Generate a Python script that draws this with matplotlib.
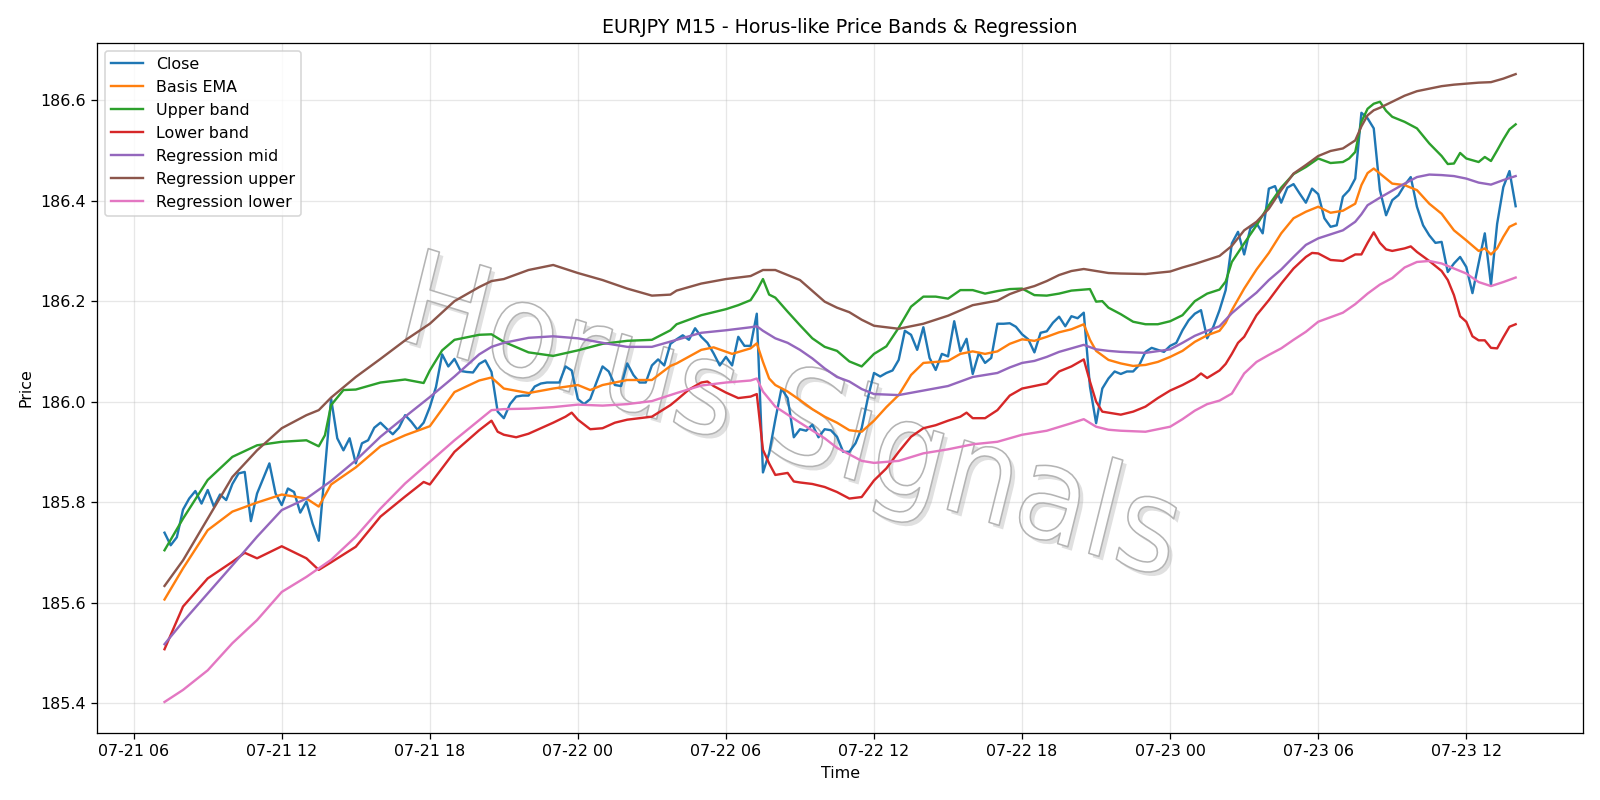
import numpy as np
import pandas as pd
import matplotlib
matplotlib.use("Agg")
from matplotlib import pyplot as plt
import matplotlib.dates as mdates
import matplotlib.patheffects as pe
from matplotlib.transforms import Affine2D

# M15 bars, counted from 07-21 06:00
t0 = pd.Timestamp("2025-07-21 06:00")

close_start = 5
close = [
    185.739, 185.714, 185.730, 185.785, 185.807, 185.822, 185.797, 185.824, 185.791, 185.815,
    185.804, 185.836, 185.857, 185.860, 185.762, 185.817, 185.847, 185.877, 185.817, 185.794,
    185.827, 185.820, 185.779, 185.801, 185.757, 185.723, 185.864, 186.006, 185.927, 185.903,
    185.927, 185.877, 185.917, 185.923, 185.948, 185.958, 185.946, 185.935, 185.948, 185.973,
    185.960, 185.944, 185.958, 185.989, 186.029, 186.094, 186.070, 186.085, 186.061, 186.059,
    186.058, 186.075, 186.082, 186.059, 185.980, 185.967, 185.995, 186.010, 186.012, 186.012,
    186.030, 186.036, 186.038, 186.038, 186.038, 186.070, 186.062, 186.005, 185.995, 186.005,
    186.038, 186.070, 186.060, 186.033, 186.031, 186.076, 186.053, 186.038, 186.038, 186.072,
    186.084, 186.072, 186.115, 186.124, 186.132, 186.123, 186.146, 186.129, 186.117, 186.096,
    186.072, 186.089, 186.072, 186.129, 186.111, 186.111, 186.175, 185.859, 185.897, 185.964,
    186.026, 186.007, 185.929, 185.945, 185.942, 185.954, 185.929, 185.945, 185.943, 185.930,
    185.900, 185.900, 185.917, 185.947, 186.007, 186.057, 186.050, 186.057, 186.062, 186.083,
    186.141, 186.133, 186.103, 186.148, 186.087, 186.063, 186.095, 186.090, 186.160, 186.100,
    186.125, 186.055, 186.097, 186.077, 186.087, 186.155, 186.155, 186.156, 186.149, 186.134,
    186.124, 186.098, 186.137, 186.140, 186.157, 186.169, 186.150, 186.170, 186.166, 186.177,
    186.030, 185.957, 186.026, 186.046, 186.060, 186.055, 186.060, 186.060, 186.073, 186.099,
    186.107, 186.103, 186.099, 186.111, 186.117, 186.142, 186.162, 186.175, 186.182, 186.126,
    186.149, 186.182, 186.222, 186.315, 186.338, 186.293, 186.345, 186.355, 186.335, 186.424,
    186.429, 186.396, 186.426, 186.433, 186.414, 186.396, 186.424, 186.413, 186.365, 186.348,
    186.351, 186.408, 186.421, 186.444, 186.575, 186.564, 186.544, 186.421, 186.371, 186.401,
    186.411, 186.431, 186.447, 186.388, 186.351, 186.331, 186.316, 186.318, 186.258, 186.275,
    186.288, 186.268, 186.216, 186.275, 186.335, 186.232, 186.354, 186.427, 186.459, 186.389,
]

ema_bars = [5, 8, 12, 16, 20, 24, 28, 30, 32, 36, 40, 44, 48, 52, 56, 58, 60, 64, 68, 72,
            74, 76, 80, 84, 87, 88, 92, 94, 97, 100, 101, 102, 103, 104, 106, 108, 110, 112, 114, 116,
            118, 120, 122, 124, 126, 128, 130, 132, 134, 136, 138, 140, 142, 144, 146, 148, 150, 152, 154, 155,
            156, 158, 160, 162, 164, 166, 168, 170, 172, 174, 176, 177, 178, 180, 182, 184, 186, 188, 190, 192,
            194, 196, 198, 199, 200, 201, 202, 204, 206, 208, 210, 212, 214, 216, 218, 219, 220, 221, 222, 223, 224]
ema = [185.606, 185.668, 185.744, 185.781, 185.799, 185.815, 185.807, 185.791, 185.835, 185.869,
       185.911, 185.933, 185.951, 186.019, 186.042, 186.048, 186.026, 186.017, 186.026, 186.033,
       186.023, 186.033, 186.043, 186.043, 186.071, 186.076, 186.103, 186.108, 186.095, 186.106,
       186.116, 186.079, 186.046, 186.033, 186.020, 186.003, 185.985, 185.970, 185.958, 185.943,
       185.940, 185.962, 185.989, 186.013, 186.053, 186.077, 186.079, 186.081, 186.095, 186.100,
       186.095, 186.100, 186.115, 186.124, 186.121, 186.129, 186.138, 186.144, 186.154, 186.123,
       186.101, 186.083, 186.076, 186.071, 186.073, 186.079, 186.089, 186.101, 186.119, 186.132,
       186.141, 186.157, 186.182, 186.225, 186.263, 186.296, 186.335, 186.365, 186.378, 186.388,
       186.376, 186.380, 186.394, 186.431, 186.455, 186.464, 186.454, 186.434, 186.431, 186.421,
       186.394, 186.374, 186.341, 186.321, 186.300, 186.305, 186.293, 186.305, 186.328, 186.348, 186.354]

upper_bars = [5, 8, 12, 16, 20, 24, 28, 30, 31, 32, 34, 36, 40, 44, 47, 48, 50, 52, 56, 58,
              60, 64, 68, 72, 76, 80, 84, 87, 88, 92, 96, 98, 100, 101, 102, 103, 104, 106, 108, 110,
              112, 114, 116, 118, 120, 122, 124, 126, 128, 130, 132, 134, 136, 138, 140, 142, 144, 146, 148, 150,
              152, 155, 156, 157, 158, 160, 162, 164, 166, 168, 170, 172, 174, 176, 177, 178, 180, 182, 184, 186,
              188, 190, 192, 194, 196, 197, 198, 199, 200, 201, 202, 203, 204, 206, 208, 210, 212, 213, 214, 215,
              216, 218, 219, 220, 221, 222, 223, 224]
upper = [185.704, 185.767, 185.844, 185.890, 185.913, 185.920, 185.923, 185.911, 185.933, 185.993,
         186.023, 186.024, 186.038, 186.044, 186.037, 186.062, 186.102, 186.123, 186.133, 186.134,
         186.119, 186.098, 186.091, 186.102, 186.115, 186.121, 186.123, 186.142, 186.154, 186.172,
         186.184, 186.192, 186.202, 186.221, 186.244, 186.213, 186.207, 186.179, 186.152, 186.126,
         186.109, 186.101, 186.080, 186.070, 186.095, 186.110, 186.147, 186.189, 186.209, 186.209,
         186.205, 186.222, 186.222, 186.215, 186.220, 186.224, 186.225, 186.212, 186.211, 186.215,
         186.221, 186.224, 186.199, 186.200, 186.187, 186.174, 186.159, 186.154, 186.154, 186.160,
         186.172, 186.200, 186.215, 186.223, 186.239, 186.278, 186.315, 186.351, 186.391, 186.426,
         186.453, 186.467, 186.484, 186.475, 186.477, 186.484, 186.497, 186.557, 186.583, 186.593,
         186.597, 186.579, 186.567, 186.557, 186.544, 186.514, 186.489, 186.473, 186.474, 186.495,
         186.484, 186.477, 186.487, 186.479, 186.500, 186.522, 186.542, 186.552]

lower_bars = [5, 8, 12, 16, 18, 20, 24, 28, 30, 32, 36, 40, 44, 47, 48, 52, 56, 58, 59, 60,
              62, 64, 68, 70, 71, 72, 74, 76, 78, 80, 84, 87, 88, 90, 92, 93, 94, 96, 98, 100,
              101, 102, 103, 104, 106, 107, 108, 110, 112, 114, 116, 118, 120, 122, 124, 126, 128, 130, 132, 134,
              135, 136, 138, 140, 142, 144, 146, 148, 150, 152, 154, 155, 156, 157, 158, 160, 162, 164, 166, 168,
              170, 172, 173, 174, 176, 177, 178, 179, 180, 182, 184, 186, 188, 190, 191, 192, 194, 196, 198, 199,
              200, 201, 202, 203, 204, 206, 207, 208, 210, 212, 213, 214, 215, 216, 217, 218, 219, 220, 221, 222,
              223, 224]
lower = [185.507, 185.592, 185.648, 185.681, 185.699, 185.688, 185.712, 185.688, 185.665, 185.680,
         185.711, 185.771, 185.811, 185.840, 185.835, 185.900, 185.943, 185.962, 185.940, 185.934,
         185.929, 185.936, 185.958, 185.970, 185.978, 185.964, 185.945, 185.947, 185.958, 185.964,
         185.970, 185.993, 186.003, 186.024, 186.038, 186.040, 186.031, 186.018, 186.007, 186.010,
         186.015, 185.904, 185.877, 185.854, 185.858, 185.841, 185.839, 185.836, 185.830, 185.820,
         185.807, 185.810, 185.843, 185.867, 185.900, 185.930, 185.947, 185.953, 185.962, 185.970,
         185.978, 185.967, 185.967, 185.983, 186.012, 186.026, 186.031, 186.036, 186.060, 186.070,
         186.084, 186.040, 186.000, 185.980, 185.978, 185.974, 185.980, 185.990, 186.007, 186.022,
         186.033, 186.046, 186.056, 186.047, 186.062, 186.075, 186.095, 186.117, 186.129, 186.172,
         186.202, 186.235, 186.265, 186.288, 186.296, 186.295, 186.282, 186.280, 186.293, 186.293,
         186.316, 186.337, 186.316, 186.303, 186.300, 186.305, 186.309, 186.298, 186.280, 186.260,
         186.242, 186.212, 186.170, 186.159, 186.130, 186.122, 186.122, 186.107, 186.106, 186.128,
         186.149, 186.154]

reg_bars = [5, 8, 12, 16, 20, 24, 28, 32, 36, 40, 44, 48, 52, 56, 58, 60, 64, 68, 72, 76,
            80, 84, 88, 92, 96, 100, 101, 102, 104, 106, 108, 110, 112, 114, 116, 118, 120, 124, 128, 132,
            136, 140, 142, 144, 146, 148, 150, 152, 154, 156, 158, 160, 164, 168, 170, 172, 174, 176, 178, 180,
            182, 184, 186, 188, 190, 192, 194, 196, 198, 199, 200, 202, 204, 206, 208, 210, 212, 214, 216, 218,
            220, 222, 224]
reg_mid = [185.517, 185.562, 185.618, 185.674, 185.731, 185.784, 185.807, 185.842, 185.883, 185.930,
           185.970, 186.009, 186.050, 186.094, 186.109, 186.117, 186.127, 186.130, 186.126, 186.117,
           186.109, 186.109, 186.123, 186.137, 186.142, 186.148, 186.150, 186.141, 186.126, 186.117,
           186.103, 186.086, 186.066, 186.049, 186.040, 186.025, 186.015, 186.013, 186.022, 186.031,
           186.049, 186.057, 186.068, 186.077, 186.081, 186.089, 186.099, 186.106, 186.113, 186.104,
           186.101, 186.099, 186.097, 186.104, 186.117, 186.131, 186.141, 186.150, 186.176, 186.197,
           186.217, 186.242, 186.263, 186.288, 186.312, 186.325, 186.333, 186.341, 186.358, 186.373,
           186.391, 186.406, 186.420, 186.434, 186.447, 186.452, 186.451, 186.449, 186.444, 186.436,
           186.432, 186.441, 186.449]

reg_up_bars = [5, 8, 12, 16, 20, 24, 28, 30, 32, 36, 40, 44, 48, 52, 56, 58, 60, 64, 68, 72,
               76, 80, 84, 87, 88, 92, 96, 100, 101, 102, 104, 108, 112, 114, 116, 118, 120, 124, 128, 132,
               136, 140, 142, 144, 146, 148, 150, 152, 154, 156, 158, 160, 164, 168, 170, 172, 174, 176, 178, 180,
               182, 184, 186, 188, 190, 192, 194, 196, 198, 199, 200, 201, 202, 204, 206, 208, 210, 212, 214, 216,
               218, 220, 222, 224]
reg_upper = [185.633, 185.684, 185.767, 185.850, 185.903, 185.947, 185.973, 185.983, 186.008, 186.049,
             186.085, 186.122, 186.155, 186.200, 186.228, 186.240, 186.244, 186.262, 186.272, 186.256,
             186.242, 186.225, 186.211, 186.213, 186.221, 186.235, 186.244, 186.250, 186.256, 186.262,
             186.262, 186.242, 186.199, 186.187, 186.178, 186.163, 186.151, 186.145, 186.155, 186.171,
             186.192, 186.201, 186.214, 186.223, 186.230, 186.240, 186.252, 186.260, 186.264, 186.260,
             186.256, 186.255, 186.254, 186.259, 186.267, 186.274, 186.282, 186.290, 186.310, 186.341,
             186.358, 186.384, 186.421, 186.454, 186.471, 186.489, 186.499, 186.504, 186.520, 186.548,
             186.570, 186.580, 186.585, 186.597, 186.609, 186.618, 186.623, 186.628, 186.631, 186.633,
             186.635, 186.636, 186.643, 186.652]

reg_lo_bars = [5, 8, 12, 16, 20, 24, 28, 32, 36, 40, 44, 48, 52, 56, 58, 60, 64, 68, 72, 76,
               80, 84, 88, 92, 96, 100, 101, 102, 104, 108, 112, 114, 116, 118, 120, 124, 128, 132, 136, 140,
               142, 144, 148, 152, 154, 156, 158, 160, 164, 168, 170, 172, 174, 176, 178, 180, 182, 184, 186, 188,
               190, 192, 194, 196, 198, 200, 202, 204, 206, 208, 210, 212, 214, 216, 218, 220, 222, 224]
reg_lower = [185.402, 185.426, 185.465, 185.519, 185.565, 185.621, 185.651, 185.685, 185.731, 185.787,
             185.837, 185.880, 185.923, 185.963, 185.983, 185.985, 185.986, 185.989, 185.994, 185.992,
             185.995, 186.001, 186.017, 186.032, 186.038, 186.042, 186.046, 186.020, 185.990, 185.958,
             185.927, 185.908, 185.895, 185.882, 185.878, 185.882, 185.897, 185.905, 185.915, 185.920,
             185.927, 185.934, 185.942, 185.957, 185.965, 185.950, 185.944, 185.942, 185.940, 185.950,
             185.965, 185.982, 185.995, 186.002, 186.016, 186.056, 186.079, 186.093, 186.106, 186.123,
             186.139, 186.159, 186.168, 186.177, 186.194, 186.215, 186.233, 186.246, 186.267, 186.278,
             186.280, 186.275, 186.265, 186.255, 186.238, 186.230, 186.238, 186.247]


def to_time(bars):
    return t0 + pd.to_timedelta(np.asarray(bars) * 15, unit="min")


class SkewedOutline(pe.AbstractPathEffect):
    """Draws the text rotated + stretched, with a soft shadow and a grey outline."""

    def __init__(self, artist, angle, stretch):
        super().__init__()
        self.artist = artist
        self.angle = angle
        self.stretch = stretch

    def draw_path(self, renderer, gc, tpath, affine, rgbFace=None):
        x0, y0 = self.artist.get_transform().transform(self.artist.get_position())
        warp = (Affine2D().translate(-x0, -y0).rotate_deg(self.angle)
                .scale(1, self.stretch).translate(x0, y0))
        aff = affine + warp
        off = renderer.points_to_pixels(2.5)

        gc_sh = renderer.new_gc()
        gc_sh.copy_properties(gc)
        gc_sh.set_linewidth(0)
        gc_sh.set_alpha(0.3)
        renderer.draw_path(gc_sh, tpath, aff + Affine2D().translate(off, -off), (0.6, 0.6, 0.6))
        gc_sh.restore()

        gc_ln = renderer.new_gc()
        gc_ln.copy_properties(gc)
        gc_ln.set_linewidth(1.0)
        gc_ln.set_foreground("#b4b4b4")
        renderer.draw_path(gc_ln, tpath, aff, rgbFace)
        gc_ln.restore()


close_t = to_time(np.arange(close_start, close_start + len(close)))

fig, ax = plt.subplots(figsize=(14, 7))

wm = ax.text(0.466, 0.45, "Horus Signals", transform=ax.transAxes, fontsize=74,
             color="white", ha="center", va="center", zorder=0)
wm.set_path_effects([SkewedOutline(wm, -15.5, 1.12)])

ax.plot(close_t, close, label="Close")
ax.plot(to_time(ema_bars), ema, label="Basis EMA")
ax.plot(to_time(upper_bars), upper, label="Upper band")
ax.plot(to_time(lower_bars), lower, label="Lower band")
ax.plot(to_time(reg_bars), reg_mid, label="Regression mid")
ax.plot(to_time(reg_up_bars), reg_upper, label="Regression upper")
ax.plot(to_time(reg_lo_bars), reg_lower, label="Regression lower")

ax.set_title("EURJPY M15 - Horus-like Price Bands & Regression")
ax.set_xlabel("Time")
ax.set_ylabel("Price")
ax.xaxis.set_major_locator(mdates.HourLocator(byhour=[0, 6, 12, 18]))
ax.xaxis.set_major_formatter(mdates.DateFormatter("%m-%d %H"))
ax.grid(True, alpha=0.3)
ax.legend(loc="upper left")
fig.subplots_adjust(left=0.0606, right=0.9895, bottom=0.0833, top=0.9466)
plt.savefig("out.png", dpi=800 / 7)
